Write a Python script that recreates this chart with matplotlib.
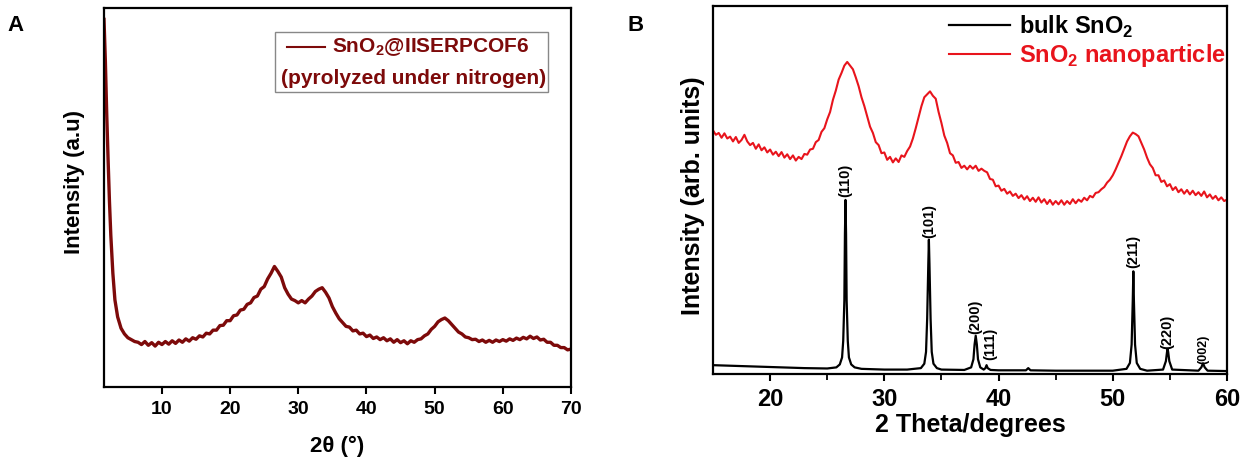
import matplotlib
matplotlib.use("Agg")
import matplotlib.pyplot as plt
from matplotlib.patches import Rectangle
from matplotlib.lines import Line2D

# --- panel A: SnO2@IISERPCOF6 (pyrolyzed under nitrogen) ---
a_theta = [1.5, 1.7, 1.9, 2.1, 2.3, 2.5, 2.8, 3.1, 3.5, 4.0, 4.5, 5.0, 5.5, 6.0,
           6.5, 7.0, 7.5, 8.0, 8.5, 9.0, 9.5, 10.0, 10.5, 11.0, 11.5, 12.0, 12.5,
           13.0, 13.5, 14.0, 14.5, 15.0, 15.5, 16.0, 16.5, 17.0, 17.5, 18.0, 18.5,
           19.0, 19.5, 20.0, 20.5, 21.0, 21.5, 22.0, 22.5, 23.0, 23.5, 24.0, 24.5,
           25.0, 25.5, 26.0, 26.5, 27.0, 27.5, 28.0, 28.5, 29.0, 29.5, 30.0, 30.5,
           31.0, 31.5, 32.0, 32.5, 33.0, 33.5, 34.0, 34.5, 35.0, 35.5, 36.0, 36.5,
           37.0, 37.5, 38.0, 38.5, 39.0, 39.5, 40.0, 40.5, 41.0, 41.5, 42.0, 42.5,
           43.0, 43.5, 44.0, 44.5, 45.0, 45.5, 46.0, 46.5, 47.0, 47.5, 48.0, 48.5,
           49.0, 49.5, 50.0, 50.5, 51.0, 51.5, 52.0, 52.5, 53.0, 53.5, 54.0, 54.5,
           55.0, 55.5, 56.0, 56.5, 57.0, 57.5, 58.0, 58.5, 59.0, 59.5, 60.0, 60.5,
           61.0, 61.5, 62.0, 62.5, 63.0, 63.5, 64.0, 64.5, 65.0, 65.5, 66.0, 66.5,
           67.0, 67.5, 68.0, 68.5, 69.0, 69.5, 70.0]
a_int = [0.97, 0.86, 0.72, 0.60, 0.49, 0.40, 0.30, 0.23, 0.185, 0.155, 0.14, 0.13, 0.125, 0.12,
         0.118, 0.112, 0.120, 0.110, 0.117, 0.108, 0.118, 0.112, 0.120, 0.113, 0.122, 0.115, 0.124,
         0.118, 0.127, 0.121, 0.130, 0.126, 0.135, 0.132, 0.142, 0.140, 0.150, 0.150, 0.162,
         0.163, 0.175, 0.175, 0.188, 0.190, 0.203, 0.205, 0.218, 0.222, 0.236, 0.240, 0.258,
         0.265, 0.285, 0.300, 0.318, 0.305, 0.290, 0.262, 0.245, 0.232, 0.228, 0.222, 0.228,
         0.222, 0.232, 0.240, 0.252, 0.258, 0.262, 0.250, 0.235, 0.212, 0.195, 0.180, 0.170,
         0.160, 0.158, 0.148, 0.150, 0.140, 0.142, 0.133, 0.137, 0.128, 0.132, 0.125, 0.130,
         0.122, 0.127, 0.118, 0.125, 0.117, 0.122, 0.114, 0.122, 0.118, 0.125, 0.127, 0.135,
         0.140, 0.152, 0.160, 0.172, 0.178, 0.182, 0.175, 0.165, 0.155, 0.145, 0.140, 0.132,
         0.130, 0.125, 0.126, 0.120, 0.124, 0.118, 0.123, 0.118, 0.124, 0.120, 0.125, 0.121,
         0.127, 0.123, 0.129, 0.125, 0.131, 0.127, 0.134, 0.128, 0.132, 0.124, 0.126, 0.118,
         0.118, 0.110, 0.110, 0.104, 0.104, 0.098, 0.100]
a_ticks = [10, 20, 30, 40, 50, 60, 70]

# --- panel B: nanoparticle (red) and bulk (black) SnO2 ---
nano_theta = [15.0, 15.25, 15.5, 15.75, 16.0, 16.25, 16.5, 16.75, 17.0, 17.25, 17.5, 17.75,
              18.0, 18.25, 18.5, 18.75, 19.0, 19.25, 19.5, 19.75, 20.0, 20.25, 20.5, 20.75,
              21.0, 21.25, 21.5, 21.75, 22.0, 22.25, 22.5, 22.75, 23.0, 23.25, 23.5, 23.75,
              24.0, 24.25, 24.5, 24.75, 25.0, 25.25, 25.5, 25.75, 26.0, 26.25, 26.5, 26.75,
              27.0, 27.25, 27.5, 27.75, 28.0, 28.25, 28.5, 28.75, 29.0, 29.25, 29.5, 29.75,
              30.0, 30.25, 30.5, 30.75, 31.0, 31.25, 31.5, 31.75, 32.0, 32.25, 32.5, 32.75,
              33.0, 33.25, 33.5, 33.75, 34.0, 34.25, 34.5, 34.75, 35.0, 35.25, 35.5, 35.75,
              36.0, 36.25, 36.5, 36.75, 37.0, 37.25, 37.5, 37.75, 38.0, 38.25, 38.5, 38.75,
              39.0, 39.25, 39.5, 39.75, 40.0, 40.25, 40.5, 40.75, 41.0, 41.25, 41.5, 41.75,
              42.0, 42.25, 42.5, 42.75, 43.0, 43.25, 43.5, 43.75, 44.0, 44.25, 44.5, 44.75,
              45.0, 45.25, 45.5, 45.75, 46.0, 46.25, 46.5, 46.75, 47.0, 47.25, 47.5, 47.75,
              48.0, 48.25, 48.5, 48.75, 49.0, 49.25, 49.5, 49.75, 50.0, 50.25, 50.5, 50.75,
              51.0, 51.25, 51.5, 51.75, 52.0, 52.25, 52.5, 52.75, 53.0, 53.25, 53.5, 53.75,
              54.0, 54.25, 54.5, 54.75, 55.0, 55.25, 55.5, 55.75, 56.0, 56.25, 56.5, 56.75,
              57.0, 57.25, 57.5, 57.75, 58.0, 58.25, 58.5, 58.75, 59.0, 59.25, 59.5, 59.75,
              60.0]
nano_int = [0.662, 0.650, 0.655, 0.642, 0.654, 0.640, 0.645, 0.632, 0.644, 0.628, 0.636, 0.650,
            0.632, 0.622, 0.628, 0.612, 0.624, 0.608, 0.616, 0.602, 0.610, 0.596, 0.604, 0.592,
            0.603, 0.588, 0.597, 0.584, 0.594, 0.580, 0.590, 0.584, 0.598, 0.596, 0.610, 0.612,
            0.630, 0.636, 0.658, 0.668, 0.692, 0.712, 0.745, 0.770, 0.800, 0.818, 0.838, 0.848,
            0.838, 0.828, 0.806, 0.782, 0.752, 0.728, 0.700, 0.672, 0.655, 0.630, 0.622, 0.600,
            0.602, 0.582, 0.590, 0.575, 0.586, 0.576, 0.594, 0.590, 0.606, 0.618, 0.640, 0.668,
            0.698, 0.728, 0.752, 0.760, 0.768, 0.756, 0.748, 0.712, 0.682, 0.648, 0.628, 0.600,
            0.594, 0.574, 0.576, 0.560, 0.566, 0.556, 0.566, 0.558, 0.566, 0.552, 0.558, 0.552,
            0.548, 0.530, 0.528, 0.510, 0.512, 0.498, 0.503, 0.490, 0.496, 0.484, 0.490, 0.478,
            0.486, 0.474, 0.483, 0.470, 0.479, 0.468, 0.480, 0.466, 0.475, 0.462, 0.473, 0.460,
            0.470, 0.461, 0.472, 0.460, 0.470, 0.462, 0.475, 0.464, 0.474, 0.468, 0.479, 0.472,
            0.484, 0.480, 0.492, 0.494, 0.502, 0.508, 0.520, 0.528, 0.540, 0.556, 0.574, 0.592,
            0.612, 0.632, 0.646, 0.656, 0.652, 0.646, 0.628, 0.610, 0.588, 0.570, 0.560, 0.540,
            0.540, 0.522, 0.526, 0.510, 0.516, 0.500, 0.508, 0.494, 0.502, 0.490, 0.500, 0.488,
            0.498, 0.486, 0.494, 0.484, 0.496, 0.480, 0.488, 0.476, 0.484, 0.472, 0.480, 0.470,
            0.474]

bulk_theta = [15.0, 17.0, 20.0, 23.0, 25.0, 25.8, 26.1, 26.3, 26.4, 26.5, 26.55, 26.6, 26.65,
              26.7, 26.8, 26.9, 27.1, 27.4, 28.0,
              30.0, 32.0, 33.2, 33.5, 33.65, 33.75, 33.85, 33.9, 33.95, 34.05, 34.15, 34.3,
              34.6, 35.0, 37.0, 37.6, 37.8, 37.9, 38.0, 38.1, 38.2, 38.4, 38.7, 38.85, 38.95,
              39.05, 39.3, 40.0, 42.4, 42.6, 42.8, 45.0, 48.0, 50.0, 51.2, 51.5, 51.65, 51.75,
              51.8, 51.85, 51.95, 52.1, 52.4, 53.0, 54.4, 54.65, 54.75, 54.8, 54.85, 54.95, 55.2,
              57.5, 57.75, 57.9, 58.05, 58.3, 60.0]
bulk_int = [0.024, 0.022, 0.019, 0.016, 0.015, 0.018, 0.026, 0.045, 0.090, 0.200, 0.380, 0.473, 0.380,
            0.200, 0.090, 0.045, 0.026, 0.018, 0.014,
            0.012, 0.012, 0.016, 0.028, 0.060, 0.150, 0.300, 0.365, 0.300, 0.150, 0.060, 0.028,
            0.016, 0.012, 0.011, 0.018, 0.040, 0.080, 0.104, 0.080, 0.040, 0.018, 0.012, 0.016, 0.024,
            0.016, 0.011, 0.010, 0.010, 0.016, 0.010, 0.009, 0.009, 0.009, 0.014, 0.030, 0.080, 0.200,
            0.279, 0.200, 0.080, 0.030, 0.014, 0.009, 0.012, 0.035, 0.060, 0.068, 0.060, 0.035, 0.012,
            0.009, 0.018, 0.029, 0.018, 0.009, 0.008]

hkl_labels = ["(110)", "(101)", "(200)", "(111)", "(211)", "(220)", "(002)"]
hkl_theta = [26.6, 33.9, 38.0, 39.3, 51.8, 54.8, 57.9]
hkl_ypos = [0.525, 0.417, 0.156, 0.081, 0.333, 0.115, 0.068]
hkl_size = [10.5, 10.5, 10.5, 10.5, 10.5, 10.5, 9.0]
b_ticks = [20, 30, 40, 50, 60]
b_minor = [25, 35, 45, 55]

plt.rcParams["font.family"] = ["Liberation Sans", "DejaVu Sans"]
plt.rcParams["font.weight"] = "bold"
plt.rcParams["mathtext.fontset"] = "custom"
plt.rcParams["mathtext.bf"] = "Liberation Sans:bold"
plt.rcParams["mathtext.rm"] = "Liberation Sans:bold"

W, H = 1244, 459
fig = plt.figure(figsize=(W / 100, H / 100), dpi=100)

dark_red = "#7d0a0a"

# ---------- panel A ----------
ax1 = fig.add_axes([104 / W, 1 - 387 / H, 467 / W, 379 / H])
ax1.plot(a_theta, a_int, color=dark_red, lw=2.4)
ax1.set_xlim(1.5, 70)
ax1.set_ylim(0, 1)
ax1.set_yticks([])
ax1.set_xticks(a_ticks)
ax1.tick_params(axis="x", direction="out", length=5, width=1.5, pad=5, labelsize=14)
for sp in ax1.spines.values():
    sp.set_linewidth(1.6)
ax1.set_ylabel("Intensity (a.u)", fontsize=16, fontweight="bold")
ax1.yaxis.set_label_coords(-0.041, 0.54)
ax1.set_xlabel("2θ (°)", fontsize=16, fontweight="bold")
ax1.xaxis.set_label_coords(0.5, -0.13)

# legend box for panel A
ax1.add_patch(Rectangle((0.366, 0.778), 0.585, 0.159, transform=ax1.transAxes,
                        facecolor="white", edgecolor="#888888", lw=1.0))
ax1.add_line(Line2D([0.392, 0.473], [0.897, 0.897], transform=ax1.transAxes,
                    color=dark_red, lw=1.5))
ax1.text(0.488, 0.897, "SnO$_\\mathbf{2}$@IISERPCOF6", transform=ax1.transAxes,
         color=dark_red, fontsize=15, fontweight="bold", va="center")
ax1.text(0.662, 0.815, "(pyrolyzed under nitrogen)", transform=ax1.transAxes,
         color=dark_red, fontsize=15, fontweight="bold", va="center", ha="center")

fig.text(16 / W, 1 - 25.5 / H, "A", fontsize=16, fontweight="bold", ha="center", va="center")

# ---------- panel B ----------
ax2 = fig.add_axes([713 / W, 1 - 374 / H, 514 / W, 368 / H])
ax2.plot(bulk_theta, bulk_int, color="black", lw=1.6, label="bulk SnO$_\\mathbf{2}$")
ax2.plot(nano_theta, nano_int, color="#e8141c", lw=1.5, label="SnO$_\\mathbf{2}$ nanoparticle")
for lab, t, yp, fs in zip(hkl_labels, hkl_theta, hkl_ypos, hkl_size):
    ax2.text(t, yp, lab, rotation=90, ha="center", va="center", fontsize=fs, fontweight="bold")
ax2.set_xlim(15, 60)
ax2.set_ylim(0, 1)
ax2.set_yticks([])
ax2.set_xticks(b_ticks)
ax2.set_xticks(b_minor, minor=True)
ax2.tick_params(axis="x", which="major", direction="out", length=5, width=1.5, pad=5, labelsize=17)
ax2.tick_params(axis="x", which="minor", direction="out", length=4, width=1.3)
for sp in ax2.spines.values():
    sp.set_linewidth(1.6)
ax2.set_ylabel("Intensity (arb. units)", fontsize=18, fontweight="bold")
ax2.yaxis.set_label_coords(-0.016, 0.484)
ax2.set_xlabel("2 Theta/degrees", fontsize=18, fontweight="bold")
ax2.xaxis.set_label_coords(0.5, -0.105)
leg = ax2.legend(loc="upper right", bbox_to_anchor=(1.02, 1.012), frameon=False, fontsize=17,
                 handlelength=2.6, handletextpad=0.35, labelspacing=0.12, borderaxespad=0.1,
                 labelcolor="linecolor")

fig.text(636 / W, 1 - 25.5 / H, "B", fontsize=16, fontweight="bold", ha="center", va="center")

fig.savefig("out.png", dpi=100)
